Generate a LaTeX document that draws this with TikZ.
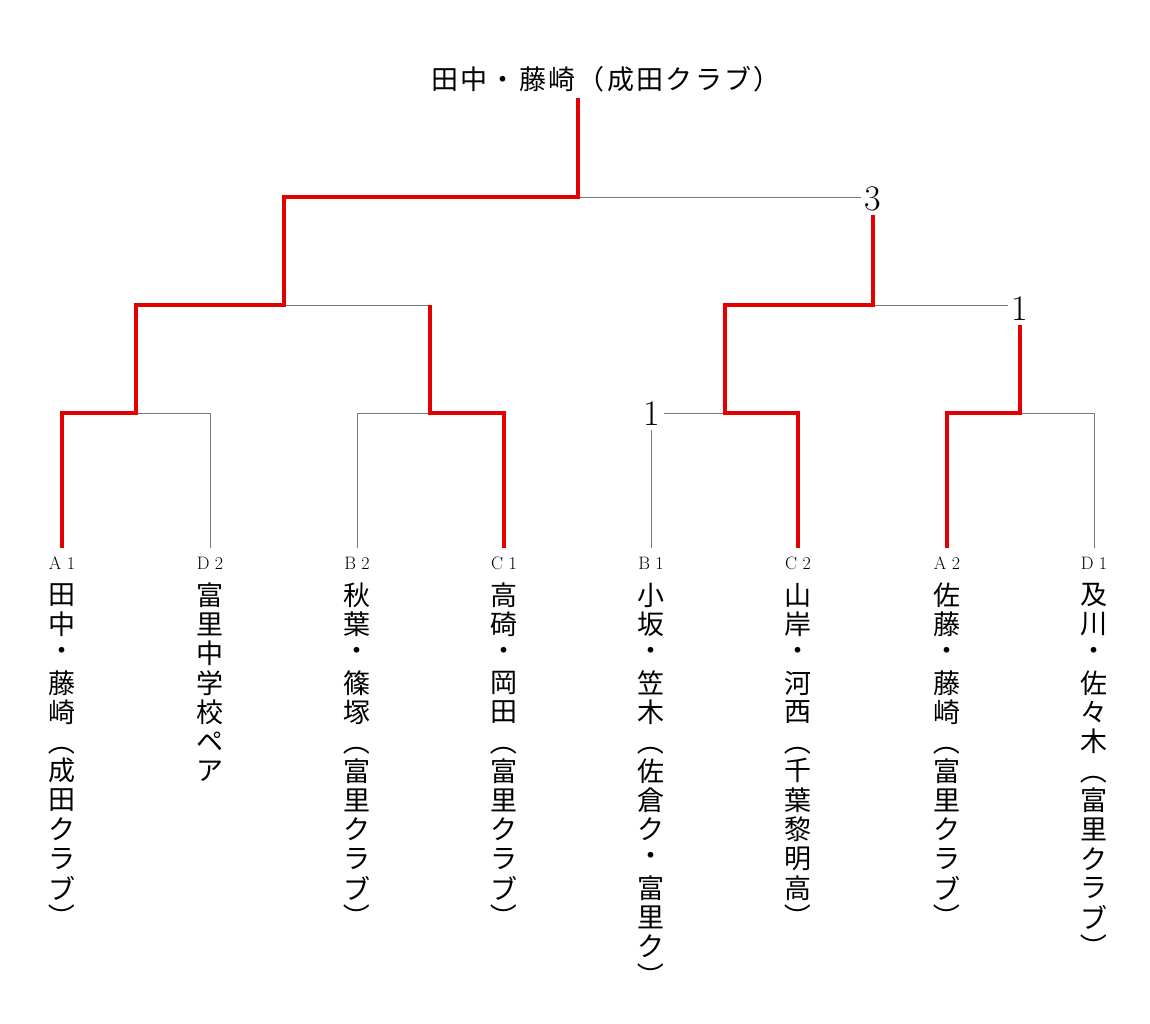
\documentclass[tikz,border=0pt]{standalone}
\usepackage{fontspec}
\usepackage{graphicx}
\newfontfamily\cjk{Noto Sans CJK JP}
\definecolor{winred}{RGB}{228,0,0}
\definecolor{linegray}{RGB}{120,120,120}
\newcommand\lp{\rotatebox[origin=c]{-90}{（}}
\newcommand\rp{\rotatebox[origin=c]{-90}{）}}
\newcommand\hc[1]{\makebox[29.3pt]{#1}}
\newcommand\vcol[3]{\foreach \ch [count=\i from 0] in {#3} {\node[vch] (#1-\i) at (#2,{595+29.3*\i}) {\ch};}}
\begin{document}
\begin{tikzpicture}[x=1pt,y=-1pt,
  vch/.style={font=\cjk\fontsize{27}{27}\selectfont, inner sep=0pt},
  seed/.style={font=\fontsize{18}{18}\selectfont, inner sep=0pt},
  score/.style={font=\fontsize{36}{36}\selectfont, inner sep=4pt},
  win/.style={draw=winred, line width=3.6pt},
  lose/.style={draw=linegray, line width=0.9pt}]
\useasboundingbox (0,0) rectangle (1150,1024);
% champion
\node[font=\cjk\fontsize{27}{27}\selectfont, inner sep=0pt, anchor=base] (champ) at (606,90)
  {\hc{田}\hc{中}\hc{・}\hc{藤}\hc{崎}\hc{（}\hc{成}\hc{田}\hc{ク}\hc{ラ}\hc{ブ}\hc{）}};
% scores
\node[score] (s3) at (873,199) {3};
\node[score] (s1r) at (1020,309) {1};
\node[score] (s1l) at (652,414) {1};
% junction coordinates
\coordinate (top) at (578,98);
\coordinate (fin) at (578,197);
\coordinate (sfL) at (284,197);
\coordinate (sfLj) at (284,305);
\coordinate (qA) at (136,305);
\coordinate (qAj) at (136,413);
\coordinate (qB) at (430,305);
\coordinate (qBj) at (430,413);
\coordinate (sfRj) at (873,305);
\coordinate (qC) at (725,305);
\coordinate (qCj) at (725,413);
\coordinate (qDj) at (1020,413);
% leaf ends
\coordinate (l1) at (62,548);
\coordinate (l2) at (210,548);
\coordinate (l3) at (357,548);
\coordinate (l4) at (504,548);
\coordinate (l5) at (651,548);
\coordinate (l6) at (798,548);
\coordinate (l7) at (947,548);
\coordinate (l8) at (1094,548);
% losing (gray) lines
\draw[lose] (fin) -- (s3.west |- fin);
\draw[lose] (sfLj) -- (qB);
\draw[lose] (qAj) -- (qAj -| l2) -- (l2);
\draw[lose] (qBj) -- (qBj -| l3) -- (l3);
\draw[lose] (sfRj) -- (s1r.west |- sfRj);
\draw[lose] (qCj) -- (s1l.east |- qCj);
\draw[lose] (s1l.south -| l5) -- (l5);
\draw[lose] (qDj) -- (qDj -| l8) -- (l8);
% winning (red) lines
\draw[win] (top) -- (fin) -- (sfL) -- (sfLj) -- (qA) -- (qAj) -- (qAj -| l1) -- (l1);
\draw[win] (qB) -- (qBj) -- (qBj -| l4) -- (l4);
\draw[win] (s3.south) -- (sfRj) -- (qC) -- (qCj) -- (qCj -| l6) -- (l6);
\draw[win] (s1r.south) -- (qDj) -- (qDj -| l7) -- (l7);
% seeds
\node[seed] (sd1) at (62,563) {A 1};
\node[seed] (sd2) at (210,563) {D 2};
\node[seed] (sd3) at (357,563) {B 2};
\node[seed] (sd4) at (504,563) {C 1};
\node[seed] (sd5) at (651,563) {B 1};
\node[seed] (sd6) at (798,563) {C 2};
\node[seed] (sd7) at (947,563) {A 2};
\node[seed] (sd8) at (1094,563) {D 1};
% team names (vertical)
\vcol{t1}{62}{田,中,・,藤,崎,\lp,成,田,ク,ラ,ブ,\rp}
\vcol{t2}{210}{富,里,中,学,校,ペ,ア}
\vcol{t3}{357}{秋,葉,・,篠,塚,\lp,富,里,ク,ラ,ブ,\rp}
\vcol{t4}{504}{高,碕,・,岡,田,\lp,富,里,ク,ラ,ブ,\rp}
\vcol{t5}{651}{小,坂,・,笠,木,\lp,佐,倉,ク,・,富,里,ク,\rp}
\vcol{t6}{798}{山,岸,・,河,西,\lp,千,葉,黎,明,高,\rp}
\vcol{t7}{947}{佐,藤,・,藤,崎,\lp,富,里,ク,ラ,ブ,\rp}
\vcol{t8}{1094}{及,川,・,佐,々,木,\lp,富,里,ク,ラ,ブ,\rp}
\end{tikzpicture}
\end{document}
